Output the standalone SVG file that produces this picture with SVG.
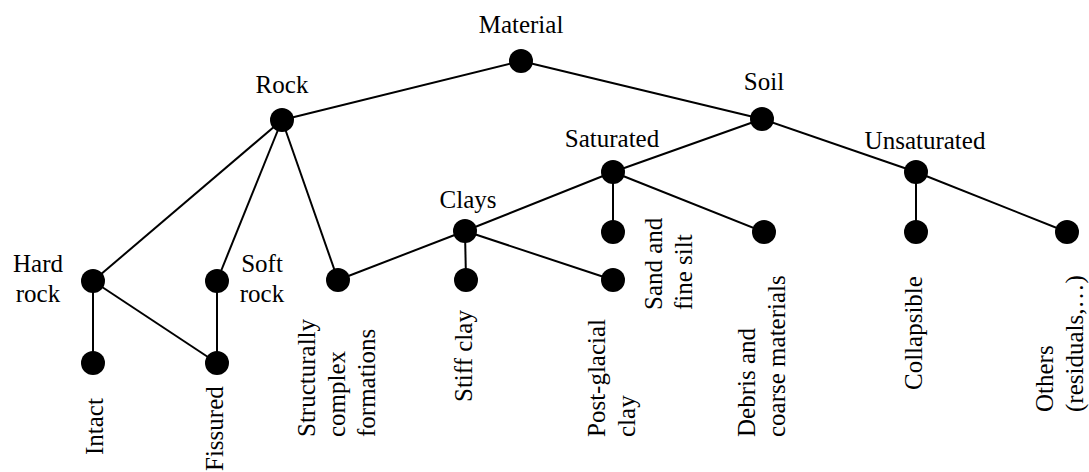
<svg xmlns="http://www.w3.org/2000/svg" width="1089" height="472" viewBox="0 0 1089 472">
<style>
.e{stroke:#000;stroke-width:2;fill:none}
.n{fill:#000}
text{font-family:"Liberation Serif","Times New Roman",serif;font-size:25px;fill:#000}
.m{text-anchor:middle}
</style>
<rect width="1089" height="472" fill="#fff"/>
<g id="connectors">
<line class="e" x1="521" y1="61" x2="282" y2="120"/>
<line class="e" x1="521" y1="61" x2="762" y2="119"/>
<line class="e" x1="282" y1="120" x2="93" y2="281"/>
<line class="e" x1="282" y1="120" x2="217" y2="281"/>
<line class="e" x1="282" y1="120" x2="338" y2="280"/>
<line class="e" x1="93" y1="281" x2="93" y2="363"/>
<line class="e" x1="93" y1="281" x2="217" y2="363"/>
<line class="e" x1="217" y1="281" x2="217" y2="363"/>
<line class="e" x1="762" y1="119" x2="613" y2="172"/>
<line class="e" x1="762" y1="119" x2="916" y2="172"/>
<line class="e" x1="613" y1="172" x2="465" y2="231"/>
<line class="e" x1="613" y1="172" x2="613" y2="232"/>
<line class="e" x1="613" y1="172" x2="764" y2="232"/>
<line class="e" x1="465" y1="231" x2="338" y2="280"/>
<line class="e" x1="465" y1="231" x2="466" y2="280"/>
<line class="e" x1="465" y1="231" x2="613" y2="280"/>
<line class="e" x1="916" y1="172" x2="916" y2="232"/>
<line class="e" x1="916" y1="172" x2="1067" y2="232"/>
</g>
<g id="material"><circle class="n" cx="521" cy="61" r="12"/><text class="m" x="521" y="33">Material</text></g>
<g id="rock"><circle class="n" cx="282" cy="120" r="12"/><text class="m" x="282" y="93">Rock</text></g>
<g id="soil"><circle class="n" cx="762" cy="119" r="12"/><text class="m" x="764" y="90">Soil</text></g>
<g id="saturated"><circle class="n" cx="613" cy="172" r="12"/><text class="m" x="612" y="147">Saturated</text></g>
<g id="unsaturated"><circle class="n" cx="916" cy="172" r="12"/><text class="m" x="925" y="149">Unsaturated</text></g>
<g id="clays"><circle class="n" cx="465" cy="231" r="12"/><text class="m" x="468" y="208">Clays</text></g>
<g id="hard-rock"><circle class="n" cx="93" cy="281" r="12"/><text class="m" x="38" y="272">Hard</text><text class="m" x="38" y="302">rock</text></g>
<g id="soft-rock"><circle class="n" cx="217" cy="281" r="12"/><text class="m" x="262" y="272">Soft</text><text class="m" x="262" y="302">rock</text></g>
<g id="structurally-complex"><circle class="n" cx="338" cy="280" r="12"/><text transform="translate(315,437) rotate(-90)">Structurally</text><text transform="translate(345,437) rotate(-90)">complex</text><text transform="translate(375,437) rotate(-90)">formations</text></g>
<g id="intact"><circle class="n" cx="93" cy="363" r="12"/><text transform="translate(103,455) rotate(-90)">Intact</text></g>
<g id="fissured"><circle class="n" cx="217" cy="363" r="12"/><text transform="translate(223,471) rotate(-90)">Fissured</text></g>
<g id="stiff-clay"><circle class="n" cx="466" cy="280" r="12"/><text transform="translate(472,402) rotate(-90)">Stiff clay</text></g>
<g id="post-glacial-clay"><circle class="n" cx="613" cy="280" r="12"/><text transform="translate(605,437) rotate(-90)">Post-glacial</text><text transform="translate(635,437) rotate(-90)">clay</text></g>
<g id="sand"><circle class="n" cx="613" cy="232" r="12"/><text transform="translate(662,310) rotate(-90)">Sand and</text><text transform="translate(692,310) rotate(-90)">fine silt</text></g>
<g id="debris"><circle class="n" cx="764" cy="232" r="12"/><text transform="translate(755,437) rotate(-90)">Debris and</text><text transform="translate(785,437) rotate(-90)">coarse materials</text></g>
<g id="collapsible"><circle class="n" cx="916" cy="232" r="12"/><text transform="translate(922,390) rotate(-90)">Collapsible</text></g>
<g id="others"><circle class="n" cx="1067" cy="232" r="12"/><text transform="translate(1053,412) rotate(-90)">Others</text><text transform="translate(1083,412) rotate(-90)">(residuals,…)</text></g>
</svg>
